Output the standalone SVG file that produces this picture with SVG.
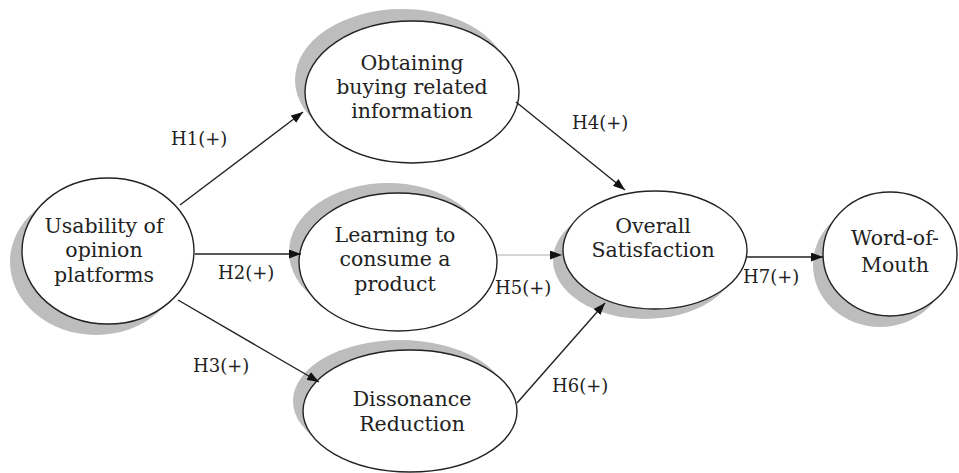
<svg xmlns="http://www.w3.org/2000/svg" width="959" height="473" viewBox="0 0 959 473">
<style>
.sh{fill:#bdbdbd;stroke:none}
.nd{fill:#fff;stroke:#222;stroke-width:1.4}
.t{font-family:"DejaVu Serif","Liberation Serif",serif;font-size:20.5px;fill:#222;text-anchor:middle}
.lb{font-family:"DejaVu Serif","Liberation Serif",serif;font-size:18px;fill:#222}
.ln{stroke:#222;stroke-width:1.4;fill:none;marker-end:url(#ah)}
.thin{stroke:#aaa;stroke-width:1;fill:none;marker-end:url(#ah)}
</style>
<defs>
<marker id="ah" markerWidth="12" markerHeight="9" refX="12" refY="4.5" orient="auto" markerUnits="userSpaceOnUse">
<path d="M0,0 L12,4.5 L0,9 Z" fill="#111"/>
</marker>
</defs>
<rect width="959" height="473" fill="#fff"/>
<g id="usability">
<ellipse class="sh" cx="96" cy="262" rx="86" ry="73"/>
<ellipse class="nd" cx="108" cy="251" rx="86" ry="73"/>
<text class="t" x="104" y="233">Usability of</text>
<text class="t" x="104" y="257">opinion</text>
<text class="t" x="104" y="282">platforms</text>
</g>
<g id="obtaining">
<ellipse class="sh" cx="402" cy="80" rx="107" ry="71"/>
<ellipse class="nd" cx="412" cy="92" rx="107" ry="71"/>
<text class="t" x="412" y="70">Obtaining</text>
<text class="t" x="412" y="94">buying related</text>
<text class="t" x="412" y="118">information</text>
</g>
<g id="learning">
<ellipse class="sh" cx="388" cy="252" rx="99" ry="69"/>
<ellipse class="nd" cx="398" cy="262" rx="99" ry="69"/>
<text class="t" x="395" y="242">Learning to</text>
<text class="t" x="395" y="266">consume a</text>
<text class="t" x="395" y="291">product</text>
</g>
<g id="dissonance">
<ellipse class="sh" cx="400" cy="401" rx="107" ry="61"/>
<ellipse class="nd" cx="410" cy="411" rx="107" ry="61"/>
<text class="t" x="412" y="406">Dissonance</text>
<text class="t" x="412" y="431">Reduction</text>
</g>
<g id="overall">
<ellipse class="sh" cx="645" cy="260" rx="92" ry="59"/>
<ellipse class="nd" cx="655" cy="250" rx="92" ry="59"/>
<text class="t" x="653" y="233">Overall</text>
<text class="t" x="653" y="257">Satisfaction</text>
</g>
<g id="wom">
<ellipse class="sh" cx="880" cy="265" rx="67" ry="62"/>
<ellipse class="nd" cx="890" cy="254" rx="67" ry="62"/>
<text class="t" x="895" y="245">Word-of-</text>
<text class="t" x="895" y="272">Mouth</text>
</g>
<g id="connectors">
<line class="ln" x1="180" y1="205" x2="303" y2="112"/>
<line class="ln" x1="195" y1="254" x2="301" y2="254"/>
<line class="ln" x1="178" y1="300" x2="319" y2="382"/>
<line class="ln" x1="516" y1="102" x2="625" y2="190"/>
<line class="thin" x1="497" y1="255" x2="562" y2="255"/>
<line class="ln" x1="517" y1="403" x2="605" y2="303"/>
<line class="ln" x1="747" y1="257" x2="823" y2="257"/>
<text class="lb" x="171" y="145">H1(+)</text>
<text class="lb" x="218" y="279">H2(+)</text>
<text class="lb" x="193" y="372">H3(+)</text>
<text class="lb" x="572" y="129">H4(+)</text>
<text class="lb" x="495" y="294">H5(+)</text>
<text class="lb" x="552" y="392">H6(+)</text>
<text class="lb" x="743" y="283">H7(+)</text>
</g>
</svg>
